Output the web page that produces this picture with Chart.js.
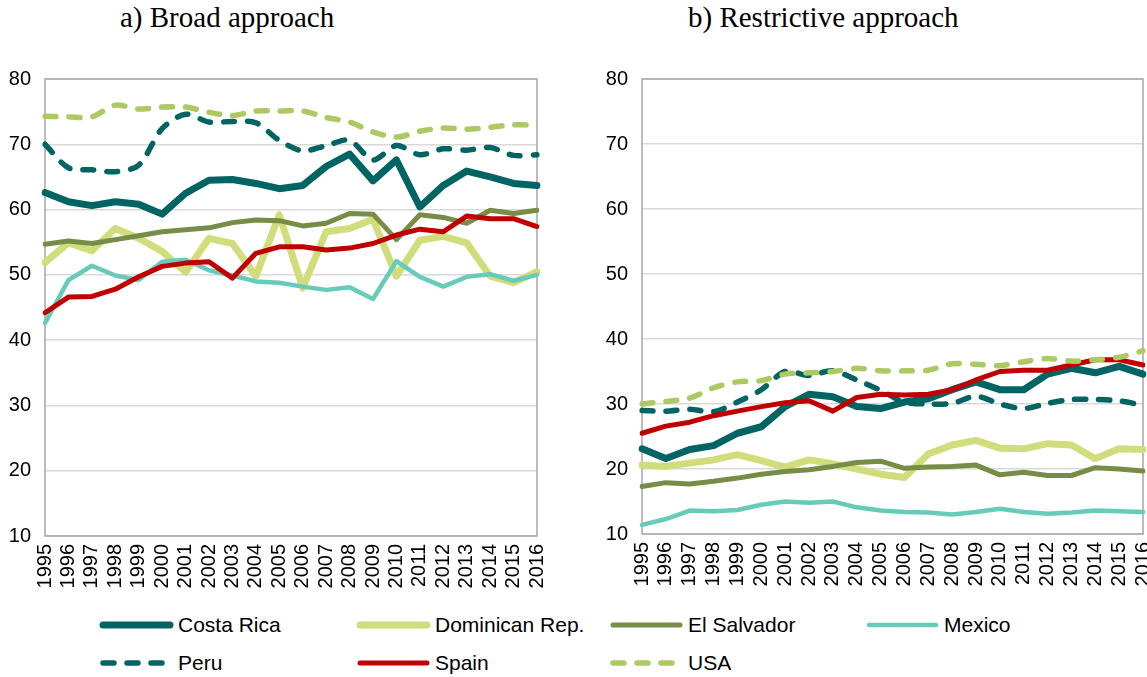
<!DOCTYPE html>
<html>
<head>
<meta charset="utf-8">
<script src="https://cdn.jsdelivr.net/npm/chart.js@4"></script>
<style>
  body { margin: 0; background: #fff; width: 1147px; height: 677px; position: relative; overflow: hidden; }
  canvas.panel { position: absolute; }
  .title { position: absolute; top: 1px; font-family: "Liberation Serif", "Times New Roman", serif; font-size: 29px; color: #000; white-space: nowrap; }
  .item { position: absolute; height: 30px; display: flex; align-items: center; font-family: "Liberation Sans", Arial, sans-serif; font-size: 21px; color: #000; white-space: nowrap; }
  .item canvas { margin-right: 4px; }
</style>
</head>
<body>
<div class="title" style="left:120px;">a) Broad approach</div>
<div class="title" style="left:688px;">b) Restrictive approach</div>
<canvas class="panel" id="broadChart" width="560" height="540" style="left:0;top:60px;"></canvas>
<canvas class="panel" id="restrictChart" width="557" height="540" style="left:590px;top:60px;"></canvas>
<div id="legend"></div>
<script>
const years = ['1995', '1996', '1997', '1998', '1999', '2000', '2001', '2002', '2003', '2004', '2005',
    '2006', '2007', '2008', '2009', '2010', '2011', '2012', '2013', '2014', '2015', '2016'];
const countries = ['Costa Rica', 'Dominican Rep.', 'El Salvador', 'Mexico', 'Peru', 'Spain', 'USA'];
const yTicks = [10, 20, 30, 40, 50, 60, 70, 80];

// a) Broad approach
const broadCostaRica = [62.6, 61.2, 60.6, 61.2, 60.8, 59.3, 62.5, 64.5, 64.6, 64.0, 63.2, 63.7, 66.6, 68.5, 64.4, 67.6, 60.4, 63.7, 65.9, 65.0, 64.0, 63.7];
const broadDominican = [51.9, 54.9, 53.7, 57.1, 55.6, 53.6, 50.4, 55.6, 54.8, 49.8, 59.2, 48.0, 56.6, 57.1, 58.5, 49.8, 55.3, 55.9, 54.9, 49.8, 48.8, 50.5];
const broadElSalvador = [54.7, 55.2, 54.8, 55.4, 56.0, 56.6, 56.9, 57.2, 58.0, 58.4, 58.3, 57.5, 57.9, 59.4, 59.3, 55.4, 59.2, 58.8, 57.9, 59.9, 59.4, 59.9];
const broadMexico = [42.6, 49.2, 51.4, 49.9, 49.2, 52.0, 52.3, 50.7, 49.9, 49.0, 48.8, 48.2, 47.7, 48.1, 46.3, 52.1, 49.7, 48.2, 49.7, 50.1, 49.1, 50.0];
const broadPeru = [70.0, 66.4, 66.1, 65.8, 66.8, 72.4, 74.6, 73.4, 73.5, 73.3, 70.6, 69.0, 69.8, 70.6, 67.6, 69.8, 68.4, 69.3, 69.1, 69.5, 68.3, 68.4];
const broadSpain = [44.2, 46.6, 46.7, 47.8, 49.7, 51.3, 51.8, 52.0, 49.5, 53.3, 54.3, 54.3, 53.8, 54.1, 54.8, 56.1, 57.0, 56.6, 59.0, 58.6, 58.6, 57.4];
const broadUSA = [74.3, 74.2, 74.2, 76.0, 75.4, 75.7, 75.7, 74.9, 74.4, 75.1, 75.1, 75.1, 74.1, 73.4, 71.9, 71.1, 72.0, 72.5, 72.3, 72.6, 73.0, 72.9];

// b) Restrictive approach
const restrCostaRica = [23.1, 21.6, 23.0, 23.6, 25.5, 26.5, 29.6, 31.5, 31.1, 29.6, 29.3, 30.3, 30.8, 32.2, 33.4, 32.2, 32.2, 34.6, 35.5, 34.8, 35.8, 34.6];
const restrDominican = [20.6, 20.4, 20.9, 21.4, 22.2, 21.3, 20.3, 21.4, 20.8, 20.0, 19.2, 18.7, 22.3, 23.7, 24.4, 23.2, 23.1, 23.9, 23.7, 21.6, 23.1, 23.0];
const restrElSalvador = [17.3, 17.9, 17.7, 18.1, 18.6, 19.2, 19.6, 19.9, 20.4, 21.0, 21.2, 20.1, 20.3, 20.4, 20.6, 19.1, 19.5, 19.0, 19.0, 20.2, 20.0, 19.7];
const restrMexico = [11.4, 12.3, 13.6, 13.5, 13.7, 14.5, 15.0, 14.8, 15.0, 14.1, 13.6, 13.4, 13.3, 13.0, 13.4, 13.9, 13.4, 13.1, 13.3, 13.6, 13.5, 13.4];
const restrPeru = [29.0, 28.9, 29.2, 28.8, 30.3, 32.2, 35.0, 34.4, 35.1, 33.7, 32.1, 30.3, 30.0, 30.1, 31.2, 30.0, 29.3, 30.1, 30.7, 30.7, 30.5, 29.8];
const restrSpain = [25.5, 26.6, 27.2, 28.2, 28.9, 29.6, 30.2, 30.5, 28.9, 31.0, 31.5, 31.4, 31.5, 32.2, 33.7, 35.0, 35.2, 35.2, 36.0, 36.8, 36.8, 36.0];
const restrUSA = [30.0, 30.4, 30.9, 32.5, 33.4, 33.6, 34.6, 34.8, 35.0, 35.5, 35.1, 35.1, 35.2, 36.2, 36.1, 35.9, 36.5, 37.0, 36.6, 36.8, 37.2, 38.2];

// line styles per country (same order as countries)
const lineStyles = [
    { color: '#006462', width: 7, dash: [] },
    { color: '#D1DC7A', width: 7, dash: [] },
    { color: '#778C45', width: 5, dash: [] },
    { color: '#66CBB9', width: 4.5, dash: [] },
    { color: '#006462', width: 5.5, dash: [11, 13] },
    { color: '#C00000', width: 5, dash: [] },
    { color: '#ADC962', width: 5.5, dash: [11, 13] }
];

const tickFont = { family: '"Liberation Sans", Arial, sans-serif', size: 20 };

// grey box round the plot area
const boxPlugin = {
    id: 'plotBox',
    beforeDatasetsDraw(chart) {
        const a = chart.chartArea;
        const ctx = chart.ctx;
        ctx.save();
        ctx.strokeStyle = '#A6A6A6';
        ctx.lineWidth = 1.5;
        ctx.strokeRect(a.left, a.top, a.right - a.left, a.bottom - a.top);
        ctx.restore();
    }
};

function buildDatasets(series) {
    return series.map((values, i) => ({
        label: countries[i],
        data: values,
        borderColor: lineStyles[i].color,
        borderWidth: lineStyles[i].width,
        borderDash: lineStyles[i].dash,
        borderCapStyle: 'round',
        borderJoinStyle: 'round',
        pointRadius: 0,
        tension: lineStyles[i].dash.length ? 0.3 : 0,
        fill: false,
        order: series.length - i
    }));
}

function renderPanel(id, series, yWidth, xHeight, padRight) {
    const ctx = document.getElementById(id).getContext('2d');
    new Chart(ctx, {
        type: 'line',
        data: { labels: years, datasets: buildDatasets(series) },
        options: {
            responsive: false,
            animation: false,
            layout: { padding: { top: 19, right: padRight, left: 0, bottom: 0 } },
            plugins: { legend: { display: false }, tooltip: { enabled: false } },
            scales: {
                x: {
                    grid: { display: false, drawTicks: false },
                    border: { display: false },
                    ticks: {
                        color: '#000', font: tickFont, padding: 8,
                        autoSkip: false, maxRotation: 90, minRotation: 90
                    },
                    afterFit(s) { s.height = xHeight; s.paddingLeft = 0; s.paddingRight = 0; }
                },
                y: {
                    min: 10, max: 80,
                    grid: { color: '#D9D9D9', lineWidth: 1.5, drawTicks: false },
                    border: { display: false },
                    afterBuildTicks(s) { s.ticks = yTicks.map(v => ({ value: v })); },
                    ticks: { color: '#000', font: tickFont, padding: 14 },
                    afterFit(s) { s.width = yWidth; s.paddingTop = 0; s.paddingBottom = 0; }
                }
            }
        },
        plugins: [boxPlugin]
    });
}

function renderLegend() {
    const legend = document.getElementById('legend');
    const lefts = [98, 355, 608, 864, 98, 355, 608];
    const tops = [610, 610, 610, 610, 648, 648, 648];
    countries.forEach((name, i) => {
        const item = document.createElement('div');
        item.className = 'item';
        item.style.left = lefts[i] + 'px';
        item.style.top = tops[i] + 'px';
        const sample = document.createElement('canvas');
        sample.width = 76;
        sample.height = 12;
        const c = sample.getContext('2d');
        const st = lineStyles[i];
        c.strokeStyle = st.color;
        c.lineWidth = st.width;
        c.lineCap = 'round';
        c.setLineDash(st.dash);
        c.beginPath();
        c.moveTo(5, 6);
        c.lineTo(72, 6);
        c.stroke();
        item.appendChild(sample);
        const label = document.createElement('span');
        label.textContent = name;
        item.appendChild(label);
        legend.appendChild(item);
    });
}

renderPanel('broadChart',
    [broadCostaRica, broadDominican, broadElSalvador, broadMexico, broadPeru, broadSpain, broadUSA], 45, 64, 23);
renderPanel('restrictChart',
    [restrCostaRica, restrDominican, restrElSalvador, restrMexico, restrPeru, restrSpain, restrUSA], 52, 66, 4);
renderLegend();
</script>
</body>
</html>
